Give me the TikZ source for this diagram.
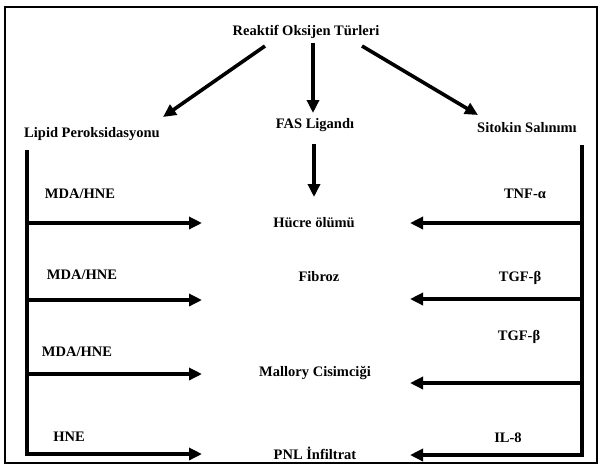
\documentclass[tikz,border=0pt]{standalone}
\usepackage{fontspec}
\setmainfont{Liberation Serif}
\usetikzlibrary{arrows.meta}
\begin{document}
\begin{tikzpicture}[x=1pt,y=-1pt,
  lbl/.style={font=\fontsize{14.5}{16}\selectfont\bfseries, inner sep=0pt, anchor=center},
  thickline/.style={line width=3.6pt},
  arr/.style={thickline, -{Triangle[length=13pt,width=12pt]}},
  frame/.style={line width=1.8pt}]
\useasboundingbox (0,0) rectangle (601,467);
\draw[frame] (5,7) rectangle (597,463);

% top
\node[lbl] (ros) at (306,32) {Reaktif Oksijen Türleri};
\node[lbl] (lipid) at (92,134) {Lipid Peroksidasyonu};
\node[lbl] (fas) at (315,125) {FAS Ligandı};
\node[lbl] (sit) at (527,128) {Sitokin Salınımı};

\coordinate (rosL) at (265,46);
\coordinate (rosM) at (313,43);
\coordinate (rosR) at (362,46);
\coordinate (lipT) at (163,117);
\coordinate (fasT) at (313,113);
\coordinate (sitT) at (478,115);
\draw[arr] (rosL) -- (lipT);
\draw[arr] (rosM) -- (fasT);
\draw[arr] (rosR) -- (sitT);

% center outcomes
\node[lbl] (hucre) at (314,223) {Hücre ölümü};
\node[lbl] (fib) at (319,277) {Fibroz};
\node[lbl] (mal) at (315,373) {Mallory Cisimciği};
\node[lbl] (pnl) at (315,453) {PNL İnfiltrat};

\coordinate (fasB) at (314,144);
\coordinate (hucT) at (314,197);
\draw[arr] (fasB) -- (hucT);

% left trunk
\coordinate (lTop) at (27,150);
\coordinate (lBot) at (27,456);
\draw[thickline] (lTop) -- (lBot);
\foreach \y/\n in {223/l1,300/l2,374/l3,454/l4}{
  \coordinate (\n s) at (27,\y);
  \coordinate (\n e) at (202,\y);
  \draw[arr] (\n s) -- (\n e);
}
\node[lbl] (m1) at (80,194) {MDA/HNE};
\node[lbl] (m2) at (82,275) {MDA/HNE};
\node[lbl] (m3) at (77,352) {MDA/HNE};
\node[lbl] (h4) at (69,437) {HNE};

% right trunk
\coordinate (rTop) at (582,145);
\coordinate (rBot) at (582,457);
\draw[thickline] (rTop) -- (rBot);
\foreach \y/\n in {223/r1,299/r2,383/r3,455/r4}{
  \coordinate (\n s) at (582,\y);
  \coordinate (\n e) at (410,\y);
  \draw[arr] (\n s) -- (\n e);
}
\node[lbl] (t1) at (525,194) {TNF-α};
\node[lbl] (t2) at (520,278) {TGF-β};
\node[lbl] (t3) at (519,337) {TGF-β};
\node[lbl] (t4) at (508,438) {IL-8};
\end{tikzpicture}
\end{document}
